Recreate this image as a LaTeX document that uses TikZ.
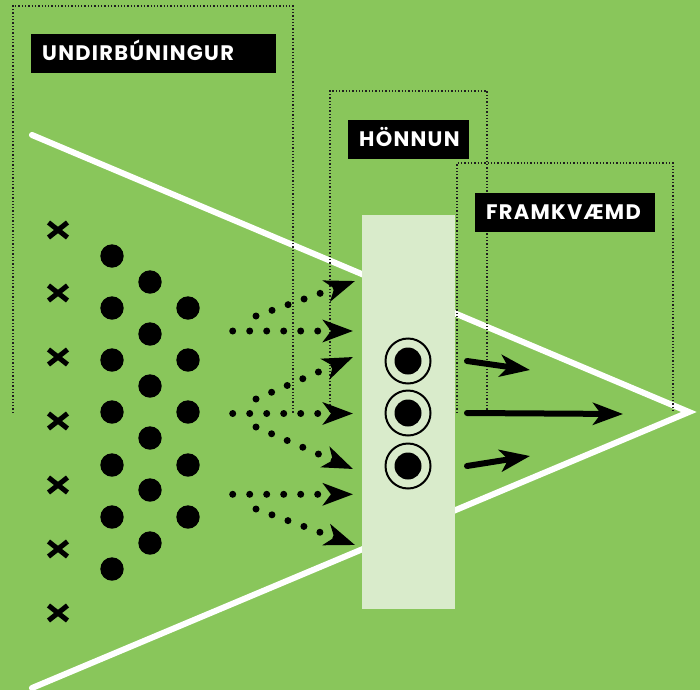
\documentclass[tikz,border=0pt]{standalone}
\usepackage{fontspec}
\newfontfamily\labelfont{Poppins}[LetterSpace=6]
\usetikzlibrary{arrows.meta}
\definecolor{bggreen}{RGB}{137,198,91}
\definecolor{lightpanel}{RGB}{217,235,203}
\definecolor{dotgrey}{RGB}{30,30,30}
\tikzset{
  boxline/.style={dotgrey, line width=1.3pt, dash pattern=on 1.3pt off 2pt},
  whiteline/.style={white, line width=6pt, line cap=round, line join=miter},
  crossline/.style={black, line width=5pt},
  bigdot/.style={fill=black},
  dotarrow/.style={black, line width=7pt, line cap=round, dash pattern=on 0pt off 17pt,
    -{Stealth[length=30pt,width=22pt,inset=8pt]}},
  solidarrow/.style={black, line width=6pt, line cap=round,
    -{Stealth[length=30pt,width=22pt,inset=8pt]}},
  lab/.style={fill=black, text=white, anchor=west, inner xsep=11pt, inner ysep=0pt,
    font=\labelfont\bfseries\fontsize{21}{21}\selectfont,
    text height=15pt, text depth=0pt, minimum height=39pt},
}
\begin{document}
\begin{tikzpicture}[x=1pt,y=-1pt]
\fill[bggreen] (0,0) rectangle (700,690);
\useasboundingbox (0,0) rectangle (700,690);
% white triangle
\coordinate (wt) at (32,135);
\coordinate (wa) at (689,412);
\coordinate (wb) at (32,688);
\draw[whiteline] (wt) -- (wa) -- (wb);
% light panel
\fill[lightpanel] (362,215) rectangle (455,609);
% dotted frames
\draw[boxline] (13,413) -- (13,6) -- (293,6) -- (293,413);
\draw[boxline] (330,412) -- (330,91) -- (487,91) -- (487,412);
\draw[boxline] (457,413) -- (457,163) -- (673,163) -- (673,413);
% labels
\node[lab, text width=223pt] (l1) at (31,53.5) {UNDIRBÚNINGUR};
\node[lab, text width=99pt] (l2) at (348,139) {HÖNNUN};
\node[lab, text width=158pt] (l3) at (475,212) {FRAMKVÆMD};
% crosses
\foreach \y [count=\i] in {230,293,357,421,485,549,613}{
  \coordinate (x\i) at (58,\y);
  \draw[crossline] ([shift={(-9.5,-7.5)}]x\i) -- ([shift={(9.5,7.5)}]x\i);
  \draw[crossline] ([shift={(-9.5,7.5)}]x\i) -- ([shift={(9.5,-7.5)}]x\i);
}
% big dots
\foreach \y in {256,308,360,412,465,517,569}{\fill[bigdot] (112,\y) circle (11.7);}
\foreach \y in {282,334,386,438,490,543}{\fill[bigdot] (150,\y) circle (11.7);}
\foreach \y in {308,360,412,465,517}{\fill[bigdot] (188,\y) circle (11.7);}
% dotted arrows
\coordinate (h1s) at (232.7,331);   \coordinate (h1e) at (353,331);
\coordinate (h2s) at (232.7,413.5); \coordinate (h2e) at (353,413.5);
\coordinate (h3s) at (232.7,494.3); \coordinate (h3e) at (353,494.3);
\coordinate (u1s) at (256,316);     \coordinate (u1e) at (355,281);
\coordinate (u2s) at (256,399);     \coordinate (u2e) at (353,357);
\coordinate (d2s) at (256,427);     \coordinate (d2e) at (353,469);
\coordinate (d3s) at (256,509);     \coordinate (d3e) at (355,545);
\draw[dotarrow] (h1s) -- (h1e);
\draw[dotarrow] (h2s) -- (h2e);
\draw[dotarrow] (h3s) -- (h3e);
\draw[dotarrow] (u1s) -- (u1e);
\draw[dotarrow] (u2s) -- (u2e);
\draw[dotarrow] (d2s) -- (d2e);
\draw[dotarrow] (d3s) -- (d3e);
% concentric circles
\foreach \y [count=\i] in {361,413,466}{
  \coordinate (c\i) at (408,\y);
  \draw[black, line width=2pt] (c\i) circle (22.5);
  \fill[black] (c\i) circle (13.5);
}
% solid arrows
\coordinate (s1) at (467,361); \coordinate (e1) at (530,370);
\coordinate (s2) at (467,413); \coordinate (e2) at (623,414);
\coordinate (s3) at (467,466); \coordinate (e3) at (530,456);
\draw[solidarrow] (s1) -- (e1);
\draw[solidarrow] (s2) -- (e2);
\draw[solidarrow] (s3) -- (e3);
\end{tikzpicture}
\end{document}
